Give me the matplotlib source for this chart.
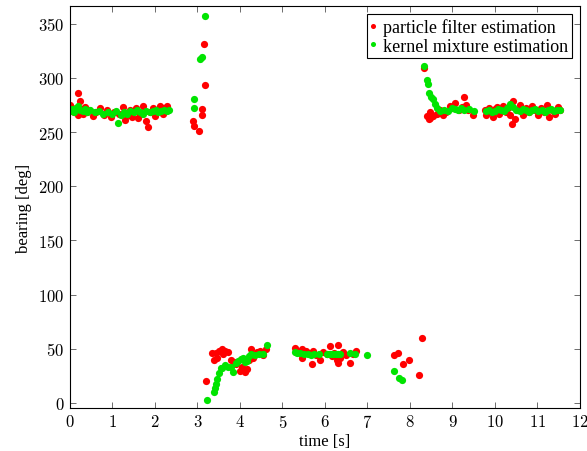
import matplotlib
matplotlib.use("Agg")
from matplotlib import pyplot as plt
from matplotlib.ticker import FuncFormatter

plt.rcParams['mathtext.fontset'] = 'cm'
plt.rcParams['font.family'] = ['Liberation Serif', 'DejaVu Serif']

# particle filter estimation (red)
pf_t = [0.00, 0.03, 0.06, 0.10, 0.13, 0.18, 0.20, 0.24, 0.28, 0.31, 0.35, 0.40, 0.45,
        0.55, 0.62, 0.70, 0.80, 0.88, 0.97, 1.05, 1.15, 1.25, 1.30, 1.38, 1.42, 1.47,
        1.55, 1.60, 1.65, 1.72, 1.78, 1.84, 1.88, 1.95, 2.00, 2.05, 2.12, 2.18, 2.22, 2.28, 2.32,
        2.90, 2.92, 3.04, 3.10, 3.12, 3.15, 3.17,
        3.21, 3.35, 3.40, 3.44, 3.45, 3.52, 3.58, 3.60, 3.66, 3.72, 3.78, 3.85, 3.92,
        4.00, 4.05, 4.12, 4.16, 4.22, 4.27, 4.32, 4.40, 4.48, 4.55, 4.61,
        5.29, 5.38, 5.45, 5.47, 5.55, 5.62, 5.69, 5.71, 5.80, 5.88, 5.95, 6.05, 6.12,
        6.16, 6.22, 6.28, 6.31, 6.31, 6.35, 6.42, 6.50, 6.59, 6.66, 6.73,
        7.62, 7.73, 7.83, 7.98, 8.22, 8.29,
        8.33, 8.40, 8.44, 8.47, 8.47, 8.52, 8.55, 8.63, 8.70, 8.78, 8.86, 8.94, 9.00,
        9.07, 9.15, 9.22, 9.27, 9.33, 9.37, 9.48,
        9.76, 9.80, 9.85, 9.90, 9.95, 10.00, 10.05, 10.10, 10.15, 10.20, 10.25, 10.30,
        10.35, 10.39, 10.43, 10.47, 10.52, 10.58, 10.65, 10.72, 10.80, 10.88, 10.95,
        11.02, 11.08, 11.15, 11.22, 11.28, 11.35, 11.42, 11.48, 11.52]
pf_bearing = [275, 269, 272, 268, 271, 286, 266, 279, 271, 267, 273, 268, 270,
              265, 268, 272, 266, 270, 264, 268, 267, 273, 261, 266, 270, 264,
              272, 263, 267, 274, 260, 255, 268, 272, 265, 270, 274, 267, 272, 274, 270,
              260, 256, 251, 266, 271, 331, 293,
              20, 46, 40, 46, 42, 48, 50, 45, 48, 47, 40, 38, 36,
              30, 33, 29, 31, 40, 50, 42, 47, 48, 44, 50,
              51, 47, 50, 42, 48, 46, 36, 48, 44, 40, 47, 45, 53,
              43, 46, 40, 54, 37, 42, 47, 44, 37, 45, 48,
              44, 46, 36, 40, 26, 60,
              309, 265, 262, 268, 263, 266, 265, 267, 270, 266, 268, 274, 272,
              277, 270, 273, 282, 275, 270, 266,
              270, 266, 272, 268, 264, 271, 273, 267, 270, 274, 268, 272,
              266, 257, 279, 262, 270, 275, 266, 272, 268, 274, 270,
              266, 272, 268, 275, 264, 270, 267, 273, 270]

# kernel mixture estimation (green)
km_t = [0.00, 0.05, 0.10, 0.15, 0.20, 0.25, 0.30, 0.35, 0.40, 0.48, 0.58, 0.68, 0.78,
        0.90, 1.00, 1.08, 1.13, 1.20, 1.28, 1.35, 1.42, 1.50, 1.58, 1.65, 1.72, 1.80,
        1.88, 1.95, 2.02, 2.08, 2.15, 2.22, 2.28, 2.33,
        2.91, 2.92, 3.05, 3.12, 3.17,
        3.22, 3.38, 3.41, 3.44, 3.47, 3.50, 3.55, 3.59, 3.66, 3.72, 3.80, 3.84, 3.90,
        3.96, 4.02, 4.08, 4.12, 4.16, 4.22, 4.27, 4.35, 4.45, 4.55, 4.63,
        5.29, 5.35, 5.42, 5.50, 5.60, 5.68, 5.75, 5.85, 6.05, 6.10, 6.15, 6.20,
        6.25, 6.30, 6.35, 6.60, 6.70, 6.98,
        7.62, 7.74, 7.82,
        8.33, 8.39, 8.42, 8.45, 8.50, 8.55, 8.59, 8.63, 8.71, 8.80, 8.90, 9.00, 9.05,
        9.12, 9.20, 9.28, 9.38, 9.50,
        9.78, 9.85, 9.92, 10.00, 10.08, 10.15, 10.22, 10.28, 10.35, 10.42, 10.50,
        10.58, 10.65, 10.72, 10.80, 10.88, 10.95, 11.02, 11.10, 11.18, 11.25, 11.32,
        11.40, 11.47, 11.52]
km_bearing = [269, 271, 268, 272, 274, 270, 269, 271, 268, 270, 268, 269, 267,
              268, 267, 269, 258, 266, 268, 267, 269, 268, 270, 268, 267, 269,
              268, 269, 270, 268, 269, 270, 269, 270,
              280, 272, 317, 319, 357,
              3, 10, 14, 18, 22, 28, 32, 32, 35, 33, 33, 29, 37,
              39, 41, 42, 38, 39, 43, 45, 44, 45, 45, 54,
              47, 46, 46, 45, 45, 44, 45, 45, 45, 45, 45, 45,
              45, 45, 45, 46, 45, 44,
              30, 23, 21,
              311, 298, 294, 286, 282, 280, 276, 272, 269, 270, 269, 272, 271,
              270, 272, 270, 271, 269,
              269, 270, 268, 269, 271, 270, 269, 272, 276, 273, 270,
              269, 271, 270, 268, 270, 271, 269, 270, 268, 270, 271,
              269, 270, 270]

fig = plt.figure(figsize=(5.87, 4.52), dpi=100)
ax = fig.add_axes([0.119, 0.095, 0.869, 0.889])

ax.plot(pf_t, pf_bearing, 'o', color='red', markersize=5.2, markeredgewidth=0,
        label='particle filter estimation')
ax.plot(km_t, km_bearing, 'o', color='#00e400', markersize=5.2, markeredgewidth=0,
        label='kernel mixture estimation')

ax.set_xlim(0, 12)
ax.set_ylim(-4.6, 366)
ax.set_xticks(range(0, 13))
ax.set_yticks(range(0, 351, 50))
fmt = FuncFormatter(lambda v, p: r'$%d$' % v)
ax.xaxis.set_major_formatter(fmt)
ax.yaxis.set_major_formatter(fmt)
ax.tick_params(direction='in', top=True, right=True, length=4, width=0.6,
               color='#555555', labelsize=12, pad=4)
for s in ax.spines.values():
    s.set_linewidth(0.8)

ax.set_xlabel('time [s]', fontsize=12, labelpad=2)
ax.set_ylabel('bearing [deg]', fontsize=12, labelpad=4)

leg = ax.legend(loc='upper right', fontsize=13, handlelength=0.3, handletextpad=0.4,
                borderpad=0.2, labelspacing=0.1, borderaxespad=0.45,
                fancybox=False, edgecolor='black', framealpha=1, markerscale=0.7)
leg.get_frame().set_linewidth(0.8)

fig.savefig('out.png', dpi=100)
